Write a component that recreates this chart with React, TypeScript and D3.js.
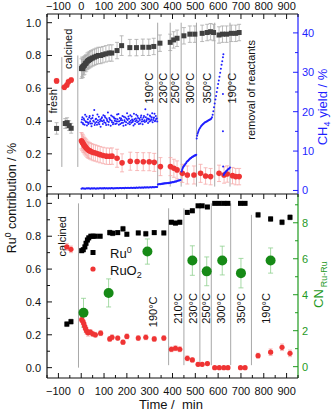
import React from 'react';
import * as d3 from 'd3';

type Pt = [number, number, number];
type Dot = [number, number];

const timeTicks = [-100, 0, 100, 200, 300, 400, 500, 600, 700, 800, 900];
const fractionTicks = [0, 0.2, 0.4, 0.6, 0.8, 1.0];
const yieldTicks = [0, 10, 20, 30, 40];
const cnTicks = [0, 2, 4, 6, 8];

// Upper panel: operando fractions [time, value, error]
const ru0Operando: Pt[] = [
  [-108, 0.355, 0.035],
  [-70, 0.385, 0.03], [-62, 0.39, 0.03], [-53, 0.372, 0.03], [-44, 0.356, 0.03],
  [1, 0.72, 0.06], [4, 0.73, 0.06], [7, 0.72, 0.055], [10, 0.735, 0.055], [14, 0.74, 0.055],
  [18, 0.75, 0.05], [22, 0.755, 0.05], [27, 0.765, 0.05], [32, 0.77, 0.05], [37, 0.775, 0.05],
  [43, 0.78, 0.05], [50, 0.785, 0.05], [58, 0.79, 0.05], [66, 0.795, 0.05], [75, 0.8, 0.05],
  [85, 0.8, 0.05], [95, 0.805, 0.05], [108, 0.81, 0.05], [122, 0.815, 0.05], [134, 0.815, 0.05],
  [157, 0.83, 0.05], [177, 0.86, 0.06], [213, 0.848, 0.05], [242, 0.848, 0.05], [270, 0.85, 0.05],
  [296, 0.85, 0.05], [318, 0.855, 0.05], [345, 0.875, 0.05], [390, 0.88, 0.05], [405, 0.895, 0.05],
  [420, 0.905, 0.05], [450, 0.92, 0.05], [476, 0.93, 0.05], [498, 0.93, 0.05], [530, 0.935, 0.05],
  [552, 0.94, 0.05], [567, 0.945, 0.05], [580, 0.94, 0.05], [604, 0.925, 0.05], [619, 0.93, 0.05],
  [637, 0.93, 0.05], [658, 0.935, 0.05], [677, 0.935, 0.05], [692, 0.94, 0.05],
];

const ruo2Operando: Pt[] = [
  [-108, 0.645, 0.015],
  [-74, 0.606, 0.015], [-63, 0.62, 0.015], [-56, 0.64, 0.015], [-44, 0.65, 0.015],
  [1, 0.28, 0.05], [4, 0.272, 0.05], [7, 0.266, 0.05], [10, 0.258, 0.05], [14, 0.25, 0.05],
  [18, 0.243, 0.05], [22, 0.236, 0.05], [27, 0.228, 0.05], [32, 0.222, 0.05], [38, 0.218, 0.05],
  [45, 0.213, 0.05], [53, 0.208, 0.05], [62, 0.205, 0.05], [72, 0.2, 0.05], [83, 0.195, 0.05],
  [96, 0.19, 0.05], [110, 0.186, 0.05], [124, 0.185, 0.05], [135, 0.186, 0.05],
  [157, 0.173, 0.055], [179, 0.145, 0.055], [215, 0.155, 0.055], [245, 0.153, 0.055], [272, 0.152, 0.055],
  [298, 0.152, 0.055], [320, 0.148, 0.055], [347, 0.122, 0.055], [391, 0.122, 0.055], [406, 0.112, 0.055],
  [420, 0.102, 0.055], [443, 0.081, 0.055], [465, 0.071, 0.055], [494, 0.071, 0.055], [523, 0.081, 0.055],
  [545, 0.065, 0.05], [567, 0.061, 0.05], [604, 0.081, 0.05], [626, 0.071, 0.05], [640, 0.077, 0.05],
  [663, 0.067, 0.05], [677, 0.061, 0.05], [692, 0.061, 0.05],
];

// CH4 yield / % [time, yield]
const ch4Upper: Dot[] = [
  [1, 17.3], [3, 18.0], [5, 18.6], [7, 17.1], [9, 16.8], [11, 18.3], [13, 17.9], [15, 16.7],
  [17, 19.2], [19, 17.6], [21, 17.4], [23, 18.8], [25, 16.5], [27, 17.3], [29, 18.1], [31, 16.9],
  [33, 17.2], [35, 18.5], [37, 18.9], [39, 17.6], [41, 17.0], [43, 18.2], [45, 16.3], [47, 17.0],
  [49, 18.4], [51, 19.0], [53, 17.7], [55, 17.5], [57, 20.4], [59, 16.6], [61, 17.1], [63, 18.1],
  [65, 18.2], [67, 17.4], [69, 16.7], [71, 19.3], [73, 17.8], [75, 17.2], [77, 18.7], [79, 16.8],
  [81, 17.5], [83, 18.0], [85, 16.2], [87, 17.7], [89, 18.3], [91, 18.6], [93, 17.6], [95, 16.9],
  [97, 19.1], [99, 17.8], [101, 17.3], [103, 18.9], [105, 18.5], [107, 17.1], [109, 16.6], [111, 18.3],
  [113, 17.9], [115, 17.6], [117, 19.8], [119, 16.7], [121, 17.4], [123, 18.4], [125, 18.1], [127, 17.9],
  [129, 16.4], [131, 19.0], [133, 17.7], [135, 17.3], [137, 18.8], [139, 16.8], [141, 17.2], [143, 18.6],
  [145, 18.3], [147, 17.7], [149, 16.9], [151, 18.2], [153, 17.6], [155, 17.0], [157, 19.3], [159, 18.1],
  [161, 17.5], [163, 19.4], [165, 16.7], [167, 17.6], [169, 18.4], [171, 16.9], [173, 17.9], [175, 18.3],
  [177, 17.1], [179, 17.8], [181, 18.9], [183, 17.2], [185, 16.4], [187, 18.7], [189, 17.8], [191, 17.5],
  [193, 18.5], [195, 16.6], [197, 17.3], [199, 18.2], [201, 19.6], [203, 17.9], [205, 17.0], [207, 18.8],
  [209, 18.2], [211, 17.4], [213, 16.8], [215, 19.1], [217, 17.7], [219, 17.2], [221, 18.8], [223, 18.0],
  [225, 17.4], [227, 17.7], [229, 16.5], [231, 19.5], [233, 18.1], [235, 16.9], [237, 17.6], [239, 18.3],
  [241, 19.2], [243, 17.8], [245, 17.3], [247, 18.9], [249, 18.4], [251, 17.5], [253, 16.9], [255, 18.2],
  [257, 17.9], [259, 17.0], [261, 18.6], [263, 19.0], [265, 17.5], [267, 18.1], [269, 16.8], [271, 17.6],
  [273, 18.5], [275, 18.9], [277, 17.8], [279, 17.4], [281, 20.6], [283, 18.6], [285, 17.6], [287, 17.9],
  [289, 18.3], [291, 19.3], [293, 17.1], [295, 18.2], [297, 18.0], [299, 17.5], [301, 19.0], [303, 18.8],
  [305, 17.7], [307, 18.1], [309, 18.6], [311, 19.6], [313, 17.3], [315, 17.9], [317, 18.4], [319, 18.5],
  [321, 19.5], [323, 17.6], [325, 17.8], [327, 18.9], [329, 18.2], [331, 18.3], [333, 17.5],
];

const ch4Yield: Dot[] = [
  [1, 0.45], [5, 0.55], [9, 0.48], [13, 0.52], [17, 0.42], [21, 0.5], [25, 0.56], [29, 0.47],
  [33, 0.53], [37, 0.5], [41, 0.44], [45, 0.55], [49, 0.51], [53, 0.48], [57, 0.57], [61, 0.5],
  [65, 0.46], [69, 0.54], [73, 0.52], [77, 0.49], [81, 0.58], [85, 0.53], [89, 0.47], [93, 0.55],
  [97, 0.52], [101, 0.6], [105, 0.5], [109, 0.56], [113, 0.53], [117, 0.49], [121, 0.58], [125, 0.55],
  [129, 0.52], [133, 0.6], [137, 0.56], [141, 0.51], [145, 0.59], [149, 0.57], [153, 0.54], [157, 0.62],
  [161, 0.58], [165, 0.55], [169, 0.63], [173, 0.6], [177, 0.57], [181, 0.65], [185, 0.61], [189, 0.58],
  [193, 0.66], [197, 0.63], [201, 0.6], [205, 0.68], [209, 0.64], [213, 0.61], [217, 0.7], [221, 0.66],
  [225, 0.63], [229, 0.71], [233, 0.68], [237, 0.65], [241, 0.73], [245, 0.7], [249, 0.67], [253, 0.75],
  [257, 0.72], [261, 0.69], [265, 0.77], [269, 0.74], [273, 0.71], [277, 0.79], [281, 0.76], [285, 0.73],
  [289, 0.81], [293, 0.78], [297, 0.75], [301, 0.83], [305, 0.8], [309, 0.77], [313, 0.85], [317, 0.82],
  [321, 0.8], [325, 0.88], [329, 0.85], [333, 0.9],
  [336, 1.5], [339, 1.6], [342, 1.55], [345, 1.65], [348, 1.6], [351, 1.7], [354, 1.65], [357, 1.75],
  [360, 1.7], [363, 1.8], [366, 1.75], [369, 1.8], [372, 1.85], [375, 1.8], [378, 1.9], [381, 1.85],
  [384, 1.95], [387, 1.9], [390, 2.0], [393, 2.05], [396, 2.0], [399, 2.1], [402, 2.15], [405, 2.1],
  [408, 2.2], [411, 2.25], [414, 2.3], [417, 2.3], [420, 2.4], [423, 2.45], [426, 2.5], [429, 2.5],
  [432, 2.6], [435, 2.65],
  [440, 4.8], [442, 5.2], [444, 5.5], [446, 5.8], [448, 6.0], [450, 6.2], [452, 6.4], [455, 6.6],
  [457, 6.8], [460, 7.0], [462, 7.2], [465, 7.4], [467, 7.5], [470, 7.7], [472, 7.8], [475, 8.0],
  [477, 8.1], [480, 8.2], [482, 8.3], [485, 8.4], [487, 8.5], [490, 8.6], [492, 8.7], [495, 8.8],
  [497, 8.85], [500, 8.9], [502, 9.0], [504, 9.05],
  [506, 13.2], [508, 13.9], [510, 14.4], [512, 14.8], [514, 15.1], [516, 15.4], [519, 15.7], [522, 16.0],
  [525, 16.3], [528, 16.5], [531, 16.7], [534, 16.9], [537, 17.0], [540, 17.2], [543, 17.3], [546, 17.4],
  [549, 17.5], [552, 17.6], [555, 17.7], [558, 17.8], [561, 17.9], [564, 18.0], [567, 18.1], [570, 18.3],
  [573, 18.6], [576, 19.2], [579, 20.1], [582, 21.1], [585, 22.1], [588, 23.1], [591, 24.0], [594, 25.0],
  [597, 26.0], [600, 27.0], [603, 27.9], [606, 28.9], [609, 29.9], [612, 30.9], [615, 31.9], [618, 32.8],
  [621, 33.8], [623, 34.6],
  [621, 24.5], [621, 15.0], [622, 6.1],
  [624, 3.9], [626, 4.2], [628, 4.4], [630, 4.5], [632, 4.7], [634, 4.8], [637, 5.0], [640, 5.1],
  [643, 5.3], [646, 5.5], [649, 5.6], [652, 5.8],
];

// Lower panel: XAS fractions [time, value, error]
const ru0Xas: Pt[] = [
  [-63, 0.265, 0.015], [-45, 0.28, 0.015],
  [2, 0.712, 0.012], [9, 0.718, 0.012], [16, 0.735, 0.012], [21, 0.757, 0.012], [27, 0.777, 0.012],
  [33, 0.79, 0.012], [42, 0.8, 0.012], [52, 0.8, 0.012], [62, 0.8, 0.012], [83, 0.8, 0.012],
  [125, 0.822, 0.015], [138, 0.818, 0.015], [160, 0.822, 0.012], [183, 0.845, 0.015], [200, 0.812, 0.012],
  [250, 0.82, 0.012], [283, 0.815, 0.015], [320, 0.822, 0.012], [362, 0.82, 0.012],
  [395, 0.885, 0.012], [413, 0.88, 0.012], [432, 0.885, 0.012],
  [465, 0.945, 0.012], [487, 0.955, 0.012],
  [512, 0.985, 0.01], [530, 0.985, 0.01], [553, 0.978, 0.01],
  [585, 1.0, 0.008], [605, 1.0, 0.008], [625, 1.0, 0.008], [643, 1.0, 0.008],
  [698, 1.0, 0.008], [718, 1.0, 0.008],
  [775, 0.93, 0.015], [830, 0.905, 0.015], [880, 0.885, 0.015], [915, 0.915, 0.015],
];

const ruo2Xas: Pt[] = [
  [-63, 0.735, 0.02], [-45, 0.72, 0.02],
  [2, 0.292, 0.015], [7, 0.282, 0.02], [11, 0.268, 0.02], [15, 0.252, 0.02], [19, 0.237, 0.02],
  [24, 0.222, 0.02], [30, 0.212, 0.02], [40, 0.217, 0.015], [50, 0.206, 0.015], [62, 0.2, 0.015],
  [85, 0.21, 0.015],
  [125, 0.175, 0.015], [135, 0.185, 0.015], [160, 0.18, 0.012], [183, 0.155, 0.012], [200, 0.19, 0.015],
  [250, 0.18, 0.015], [283, 0.185, 0.015], [320, 0.175, 0.015], [362, 0.18, 0.015],
  [395, 0.112, 0.015], [413, 0.118, 0.015], [432, 0.112, 0.015],
  [465, 0.057, 0.015], [487, 0.047, 0.012],
  [512, 0.02, 0.01], [530, 0.02, 0.01], [553, 0.025, 0.01],
  [585, 0.0, 0.008], [605, 0.0, 0.008], [625, 0.0, 0.008], [643, 0.0, 0.008],
  [698, 0.0, 0.008], [718, 0.0, 0.008],
  [775, 0.073, 0.015], [830, 0.094, 0.02], [880, 0.124, 0.02], [915, 0.087, 0.02],
];

// Ru-Ru coordination number [time, CN, error]
const cnRuRu: Pt[] = [
  [10, 3.0, 0.8], [120, 4.1, 0.78], [290, 6.4, 0.7], [487, 5.9, 0.82], [550, 5.3, 0.8],
  [618, 5.9, 0.8], [700, 5.2, 0.82], [830, 5.9, 0.7],
];

// Segment separators [time, upper fraction, lower fraction]
const upperSeparators: Pt[] = [
  [-85, 0.79, 0.12], [-15, 0.8, 0.12],
  [335, 1.0, 0.0], [390, 1.0, 0.0], [438, 1.0, 0.0], [505, 1.0, 0.0], [585, 1.0, 0.0], [652, 1.0, 0.0],
];
const lowerSeparators: Pt[] = [
  [-12, 1.0, 0.0], [383, 0.97, 0.015], [450, 0.97, 0.015], [520, 0.99, 0.015],
  [570, 1.0, 0.015], [655, 1.0, 0.015], [746, 0.93, 0.015],
];

// Annotations [text, time at baseline, fraction at centre]
const upperNotes: [string, number, number][] = [
  ['fresh', -106, 0.52], ['calcined', -40, 0.84],
  ['190°C', 315, 0.6], ['230°C', 378, 0.6], ['250°C', 429, 0.6], ['300°C', 494, 0.6],
  ['350°C', 569, 0.6], ['190°C', 678, 0.6], ['removal of reactants', 761, 0.59],
];
const lowerNotes: [string, number, number][] = [
  ['calcined', -66, 0.8],
  ['190°C', 333, 0.34], ['210°C', 442, 0.36], ['230°C', 507, 0.36], ['250°C', 564, 0.36],
  ['300°C', 630, 0.36], ['350°C', 718, 0.36], ['190°C', 828, 0.36],
];

const FONT = "'Liberation Sans', Arial, sans-serif";
const BLUE = '#1f1fff';
const GREEN = '#1f9a1f';
const RED = '#ef3434';

export default function App() {
  const x = d3.scaleLinear().domain([-150, 950]).range([47, 298]);
  const yTop = d3.scaleLinear().domain([-0.045, 1.053]).range([194, 14]);
  const yCh4 = d3.scaleLinear().domain([-0.9, 44.8]).range([194, 14]);
  const yBot = d3.scaleLinear().domain([-0.063, 1.057]).range([378, 194]);
  const yCn = d3.scaleLinear().domain([-0.63, 9.6]).range([378, 194]);

  const [x0, x1] = x.range();
  const minorTime = d3.range(-150, 951, 50).filter((t) => t % 100 !== 0);
  const minorFrac = [0.1, 0.3, 0.5, 0.7, 0.9];
  const minorYield = [5, 15, 25, 35];
  const minorCn = [1, 3, 5, 7, 9];

  const errBars = (data: Pt[], y: d3.ScaleLinear<number, number>, color: string, cap = 2) =>
    data.map(([t, v, e], i) => {
      const cx = x(t);
      const a = y(v - e);
      const b = y(v + e);
      return (
        <g key={i} stroke={color} strokeWidth={0.8}>
          <line x1={cx} x2={cx} y1={a} y2={b} />
          <line x1={cx - cap} x2={cx + cap} y1={a} y2={a} />
          <line x1={cx - cap} x2={cx + cap} y1={b} y2={b} />
        </g>
      );
    });

  const squares = (data: Pt[], y: d3.ScaleLinear<number, number>, color: string, s = 5) =>
    data.map(([t, v], i) => (
      <rect key={i} x={x(t) - s / 2} y={y(v) - s / 2} width={s} height={s} fill={color} />
    ));

  const circles = (data: Pt[], y: d3.ScaleLinear<number, number>, color: string, r = 2.7) =>
    data.map(([t, v], i) => <circle key={i} cx={x(t)} cy={y(v)} r={r} fill={color} />);

  const separators = (data: Pt[], y: d3.ScaleLinear<number, number>) =>
    data.map(([t, a, b], i) => (
      <line key={i} x1={x(t)} x2={x(t)} y1={y(a)} y2={y(b)} stroke="#a8a8a8" strokeWidth={1} />
    ));

  const notes = (data: [string, number, number][], y: d3.ScaleLinear<number, number>) =>
    data.map(([txt, t, v], i) => (
      <text
        key={i}
        transform={`translate(${x(t)},${y(v)}) rotate(-90)`}
        textAnchor="middle"
        fontSize={11}
        fill="#111"
      >
        {txt}
      </text>
    ));

  // vertical-axis ticks: side = +1 means ticks point right
  const vTicks = (
    ticks: number[], minor: number[], y: d3.ScaleLinear<number, number>, ax: number, side: number,
    color: string, fmt: (v: number) => string, labelX: number, anchor: string,
  ) => (
    <g>
      {ticks.map((v, i) => (
        <g key={'M' + i}>
          <line x1={ax} x2={ax + side * 5} y1={y(v)} y2={y(v)} stroke={color} strokeWidth={1} />
          <text x={labelX} y={y(v) + 4} textAnchor={anchor} fontSize={11} fill={color}>
            {fmt(v)}
          </text>
        </g>
      ))}
      {minor.map((v, i) => (
        <line key={'m' + i} x1={ax} x2={ax + side * 3} y1={y(v)} y2={y(v)} stroke={color} strokeWidth={1} />
      ))}
    </g>
  );

  const hTicks = (ay: number, dir: number) => (
    <g stroke="#111" strokeWidth={1}>
      {timeTicks.map((t, i) => (
        <line key={'M' + i} x1={x(t)} x2={x(t)} y1={ay} y2={ay + dir * 5} />
      ))}
      {minorTime.map((t, i) => (
        <line key={'m' + i} x1={x(t)} x2={x(t)} y1={ay} y2={ay + dir * 3} />
      ))}
    </g>
  );

  const fmtFrac = (v: number) => v.toFixed(1);
  const fmtInt = (v: number) => String(v);
  const fmtTime = (v: number) => (v < 0 ? '\u2212' + Math.abs(v) : String(v));

  return (
    <svg
      width={332}
      height={411}
      style={{ position: 'absolute', left: 0, top: 0, background: '#fff' }}
      fontFamily={FONT}
    >
      <rect width={332} height={411} fill="#fff" />

      {/* upper panel */}
      {separators(upperSeparators, yTop)}
      {notes(upperNotes, yTop)}
      {errBars(ru0Operando, yTop, '#a9a9a9')}
      {errBars(ruo2Operando, yTop, '#f6aaaa')}
      {squares(ru0Operando, yTop, '#404040', 5)}
      {circles(ruo2Operando, yTop, RED, 2.8)}
      {ch4Upper.map(([t, v], i) => (
        <circle key={'u' + i} cx={x(t)} cy={yCh4(v)} r={1} fill={BLUE} />
      ))}
      {ch4Yield.map(([t, v], i) => (
        <circle key={'c' + i} cx={x(t)} cy={yCh4(v)} r={1} fill={BLUE} />
      ))}

      {/* lower panel */}
      {separators(lowerSeparators, yBot)}
      {notes(lowerNotes, yBot)}
      {errBars(ru0Xas, yBot, '#9a9a9a')}
      {errBars(ruo2Xas, yBot, '#f6aaaa')}
      {errBars(cnRuRu, yCn, '#8fd08f', 2.5)}
      {squares(ru0Xas, yBot, '#000', 5)}
      {circles(ruo2Xas, yBot, RED, 2.6)}
      {cnRuRu.map(([t, v], i) => (
        <circle key={'g' + i} cx={x(t)} cy={yCn(v)} r={5} fill="#168a16" />
      ))}

      {/* legend */}
      <rect x={90.5} y={250} width={5} height={5} fill="#000" />
      <text x={110} y={257.5} fontSize={13} fill="#111">
        Ru<tspan fontSize={9} dy={-5}>0</tspan>
      </text>
      <circle cx={93} cy={269} r={2.6} fill={RED} />
      <text x={110} y={274.5} fontSize={13} fill="#111">
        RuO<tspan fontSize={9} dy={3}>2</tspan>
      </text>

      {/* frames */}
      <line x1={x0} x2={x1} y1={14} y2={14} stroke="#111" strokeWidth={1.2} />
      <line x1={x0} x2={x1} y1={194} y2={194} stroke="#111" strokeWidth={1.2} />
      <line x1={x0} x2={x1} y1={378} y2={378} stroke="#111" strokeWidth={1.2} />
      <line x1={x0} x2={x0} y1={14} y2={378} stroke="#111" strokeWidth={1.2} />
      <line x1={x1} x2={x1} y1={14} y2={194} stroke={BLUE} strokeWidth={1.2} />
      <line x1={x1} x2={x1} y1={194} y2={378} stroke={GREEN} strokeWidth={1.2} />

      {hTicks(14, 1)}
      {hTicks(194, 1)}
      {hTicks(378, -1)}
      {timeTicks.map((t, i) => (
        <text key={'tt' + i} x={x(t)} y={9.5} textAnchor="middle" fontSize={11} fill="#111">
          {fmtTime(t)}
        </text>
      ))}
      {timeTicks.map((t, i) => (
        <text key={'bt' + i} x={x(t)} y={395} textAnchor="middle" fontSize={11} fill="#111">
          {fmtTime(t)}
        </text>
      ))}

      {vTicks(fractionTicks, minorFrac, yTop, x0, 1, '#111', fmtFrac, 41, 'end')}
      {vTicks(fractionTicks, minorFrac, yBot, x0, 1, '#111', fmtFrac, 41, 'end')}
      {vTicks(yieldTicks, minorYield, yCh4, x1, -1, BLUE, fmtInt, 302, 'start')}
      {vTicks(cnTicks, minorCn, yCn, x1, -1, GREEN, fmtInt, 302, 'start')}

      {/* axis titles */}
      <text transform="translate(16,198) rotate(-90)" textAnchor="middle" fontSize={12.5} fill="#111">
        Ru<tspan fontSize={8.5} dy={-5}>0</tspan>
        <tspan dy={5}> contribution / %</tspan>
      </text>
      <text transform="translate(327,107) rotate(-90)" textAnchor="middle" fontSize={13} fill={BLUE}>
        CH<tspan fontSize={9} dy={3}>4</tspan>
        <tspan dy={-3}> yield / %</tspan>
      </text>
      <text transform="translate(323,308) rotate(-90)" textAnchor="start" fontSize={13} fill={GREEN}>
        CN<tspan fontSize={9} dx={2} dy={3.5}>Ru-Ru</tspan>
      </text>
      <text x={171} y={409} textAnchor="middle" fontSize={13} fill="#111" style={{ whiteSpace: 'pre' }}>
        {'Time /  min'}
      </text>
    </svg>
  );
}
